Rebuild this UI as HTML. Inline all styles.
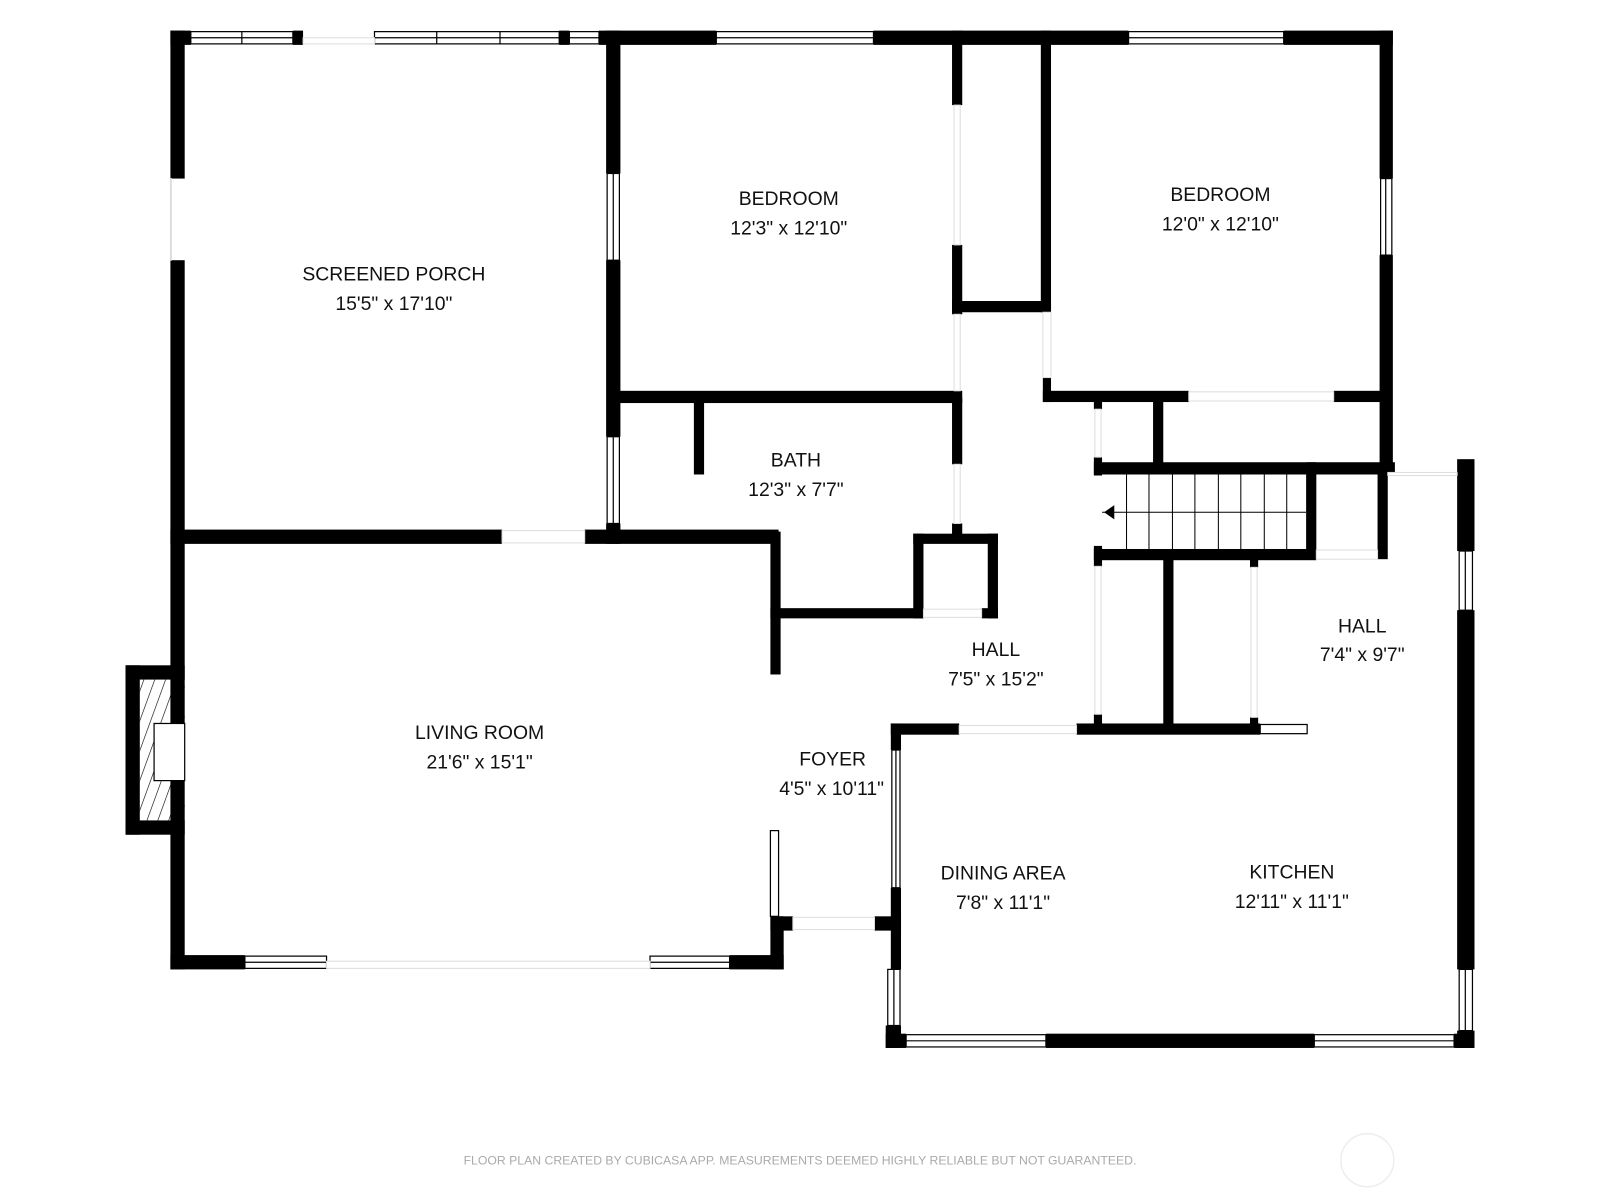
<!DOCTYPE html>
<html><head><meta charset="utf-8"><style>
html,body{margin:0;padding:0;background:#fff;width:1600px;height:1200px;overflow:hidden}
svg{display:block}
text{font-family:"Liberation Sans",sans-serif;fill:#111;text-anchor:middle;font-size:19px}
.w{fill:#fff;stroke:#000;stroke-width:1.2}
.o{fill:#fff;stroke:#ddd;stroke-width:1}
</style></head><body>
<svg width="1600" height="1200" viewBox="0 0 1568 1176" xmlns="http://www.w3.org/2000/svg">
<defs><pattern id="h" width="10" height="10" patternUnits="userSpaceOnUse" patternTransform="rotate(20)"><line x1="0" y1="0" x2="0" y2="10" stroke="#000" stroke-width="1.2"/></pattern></defs>
<g fill="#000">
<!-- porch -->
<rect x="167" y="30" width="14" height="145"/>
<rect x="167" y="255" width="14" height="695"/>
<rect x="167" y="30" width="20" height="14"/>
<rect x="287" y="30" width="10" height="14"/>
<rect x="548" y="30" width="10" height="14"/>
<rect x="587" y="30" width="115" height="14"/>
<rect x="856" y="30" width="250" height="14"/>
<rect x="1258" y="30" width="107" height="14"/>
<rect x="594" y="30" width="14" height="140"/>
<rect x="594" y="255" width="14" height="173"/>
<rect x="594" y="513" width="14" height="20"/>
<rect x="167" y="519" width="325" height="14"/>
<rect x="573" y="519" width="190" height="14"/>
<!-- bedroom1 -->
<rect x="600" y="383" width="343" height="12"/>
<rect x="933" y="30" width="10" height="73"/>
<rect x="933" y="240" width="10" height="68"/>
<rect x="933" y="295" width="97" height="11"/>
<rect x="1020" y="30" width="10" height="276"/>
<rect x="1352" y="30" width="13" height="145"/>
<rect x="1352" y="250" width="13" height="215"/>
<rect x="1022" y="383" width="143" height="11"/>
<rect x="1307" y="383" width="50" height="11"/>
<rect x="1022" y="370" width="8" height="24"/>
<!-- bath -->
<rect x="680" y="390" width="10" height="75"/>
<rect x="933" y="390" width="10" height="65"/>
<rect x="933" y="513" width="10" height="12"/>
<rect x="755" y="521" width="10" height="140"/>
<rect x="755" y="596" width="150" height="10"/>
<rect x="895" y="523" width="83" height="10"/>
<rect x="895" y="523" width="10" height="83"/>
<rect x="968" y="523" width="10" height="83"/>
<rect x="962" y="596" width="16" height="10"/>
<!-- stairs -->
<rect x="1072" y="453" width="295" height="12"/>
<rect x="1072" y="538" width="218" height="11"/>
<rect x="1280" y="453" width="10" height="95"/>
<rect x="1130" y="390" width="10" height="70"/>
<rect x="1072" y="393" width="8" height="8"/>
<rect x="1072" y="448" width="8" height="18"/>
<rect x="1072" y="535" width="8" height="20"/>
<rect x="1350" y="455" width="10" height="93"/>
<!-- hall -->
<rect x="873" y="709" width="67" height="11"/>
<rect x="1055" y="709" width="180" height="11"/>
<rect x="1140" y="548" width="10" height="167"/>
<rect x="1072" y="700" width="8" height="15"/>
<rect x="1225" y="548" width="8" height="8"/>
<rect x="1225" y="703" width="8" height="12"/>
<!-- right -->
<rect x="1428" y="450" width="17" height="90"/>
<rect x="1428" y="598" width="17" height="352"/>
<rect x="1428" y="1010" width="17" height="17"/>
<rect x="868" y="1013" width="20" height="14"/>
<rect x="1025" y="1013" width="263" height="14"/>
<rect x="1425" y="1013" width="20" height="14"/>
<rect x="873" y="709" width="10" height="26"/>
<rect x="873" y="870" width="10" height="80"/>
<rect x="868" y="1005" width="15" height="22"/>
<rect x="857" y="898" width="26" height="14"/>
<!-- living -->
<rect x="167" y="936" width="73" height="14"/>
<rect x="715" y="936" width="53" height="14"/>
<rect x="755" y="898" width="13" height="52"/>
<rect x="755" y="898" width="22" height="14"/>
<rect x="123" y="652" width="58" height="14"/>
<rect x="123" y="804" width="58" height="14"/>
<rect x="123" y="652" width="14" height="166"/>
</g>
<rect x="137" y="666" width="44" height="138" fill="url(#h)"/>
<rect x="151" y="709" width="30" height="56" class="w"/>
<!-- windows -->
<g class="w">
<rect x="187" y="31" width="100" height="12"/><line x1="237" y1="31" x2="237" y2="43" stroke="#000"/><line x1="187" y1="37" x2="287" y2="37" stroke="#000"/>
<rect x="367" y="31" width="181" height="12"/><line x1="367" y1="37" x2="548" y2="37" stroke="#000"/><line x1="428" y1="31" x2="428" y2="43" stroke="#000"/><line x1="490" y1="31" x2="490" y2="43" stroke="#000"/>
<rect x="558" y="31" width="29" height="12"/><line x1="558" y1="37" x2="587" y2="37" stroke="#000"/>
<rect x="702" y="31" width="154" height="12"/><line x1="702" y1="37" x2="856" y2="37" stroke="#000"/>
<rect x="1106" y="31" width="152" height="12"/><line x1="1106" y1="37" x2="1258" y2="37" stroke="#000"/>
<rect x="595" y="170" width="12" height="85"/><line x1="601" y1="170" x2="601" y2="255" stroke="#000"/>
<rect x="595" y="428" width="12" height="85"/><line x1="601" y1="428" x2="601" y2="513" stroke="#000"/>
<rect x="1353" y="175" width="11" height="75"/><line x1="1358" y1="175" x2="1358" y2="250" stroke="#000"/>
<rect x="1430" y="540" width="13" height="58"/><line x1="1436" y1="540" x2="1436" y2="598" stroke="#000"/>
<rect x="1430" y="950" width="13" height="60"/><line x1="1436" y1="950" x2="1436" y2="1010" stroke="#000"/>
<rect x="888" y="1014" width="137" height="12"/><line x1="888" y1="1020" x2="1025" y2="1020" stroke="#000"/>
<rect x="1288" y="1014" width="137" height="12"/><line x1="1288" y1="1020" x2="1425" y2="1020" stroke="#000"/>
<rect x="874" y="735" width="8" height="135"/><line x1="878" y1="735" x2="878" y2="870" stroke="#000"/>
<rect x="870" y="950" width="12" height="55"/><line x1="876" y1="950" x2="876" y2="1005" stroke="#000"/>
<rect x="240" y="937" width="80" height="12"/><line x1="240" y1="943" x2="320" y2="943" stroke="#000"/>
<rect x="637" y="937" width="78" height="12"/><line x1="637" y1="943" x2="715" y2="943" stroke="#000"/>
<rect x="755" y="814" width="8" height="84"/>
<rect x="1235" y="710" width="46" height="9"/>
</g>
<!-- openings -->
<g class="o">
<rect x="297" y="37" width="70" height="6"/>
<rect x="492" y="520" width="81" height="12"/>
<rect x="1165" y="384" width="142" height="9"/>
<rect x="1290" y="539" width="60" height="9"/>
<rect x="905" y="597" width="57" height="8"/>
<rect x="940" y="711" width="115" height="8"/>
<rect x="777" y="899" width="80" height="12"/>
<rect x="320" y="942" width="317" height="7"/>
<rect x="935" y="103" width="6" height="137"/>
<rect x="935" y="308" width="6" height="75"/>
<rect x="935" y="455" width="6" height="58"/>
<rect x="1022" y="306" width="8" height="64"/>
<rect x="1073" y="401" width="6" height="47"/>
<rect x="1073" y="555" width="6" height="145"/>
<rect x="1226" y="556" width="6" height="147"/>
<rect x="1360" y="463" width="68" height="3"/>
<rect x="167" y="175" width="1" height="80"/>
</g>
<!-- stairs -->
<g stroke="#000" stroke-width="1">
<line x1="1080" y1="502" x2="1280" y2="502"/>
<line x1="1104" y1="465" x2="1104" y2="538"/><line x1="1126" y1="465" x2="1126" y2="538"/><line x1="1149" y1="465" x2="1149" y2="538"/><line x1="1171" y1="465" x2="1171" y2="538"/><line x1="1194" y1="465" x2="1194" y2="538"/><line x1="1216" y1="465" x2="1216" y2="538"/><line x1="1239" y1="465" x2="1239" y2="538"/><line x1="1261" y1="465" x2="1261" y2="538"/>
</g>
<polygon points="1082,502 1092,495 1092,509" fill="#000"/>
<text x="386" y="275">SCREENED PORCH</text><text x="386" y="304">15'5" x 17'10"</text>
<text x="773" y="201">BEDROOM</text><text x="773" y="230">12'3" x 12'10"</text>
<text x="1196" y="197">BEDROOM</text><text x="1196" y="226">12'0" x 12'10"</text>
<text x="780" y="457">BATH</text><text x="780" y="486">12'3" x 7'7"</text>
<text x="976" y="643">HALL</text><text x="976" y="672">7'5" x 15'2"</text>
<text x="1335" y="620">HALL</text><text x="1335" y="648">7'4" x 9'7"</text>
<text x="470" y="724">LIVING ROOM</text><text x="470" y="753">21'6" x 15'1"</text>
<text x="816" y="750">FOYER</text><text x="815" y="779">4'5" x 10'11"</text>
<text x="983" y="862">DINING AREA</text><text x="983" y="891">7'8" x 11'1"</text>
<text x="1266" y="861">KITCHEN</text><text x="1266" y="890">12'11" x 11'1"</text>
<text x="784" y="1141" style="font-size:12px;fill:#aaa">FLOOR PLAN CREATED BY CUBICASA APP. MEASUREMENTS DEEMED HIGHLY RELIABLE BUT NOT GUARANTEED.</text>
<circle cx="1340" cy="1137" r="26" fill="none" stroke="#eee" stroke-width="1.5"/>
</svg>
</body></html>
